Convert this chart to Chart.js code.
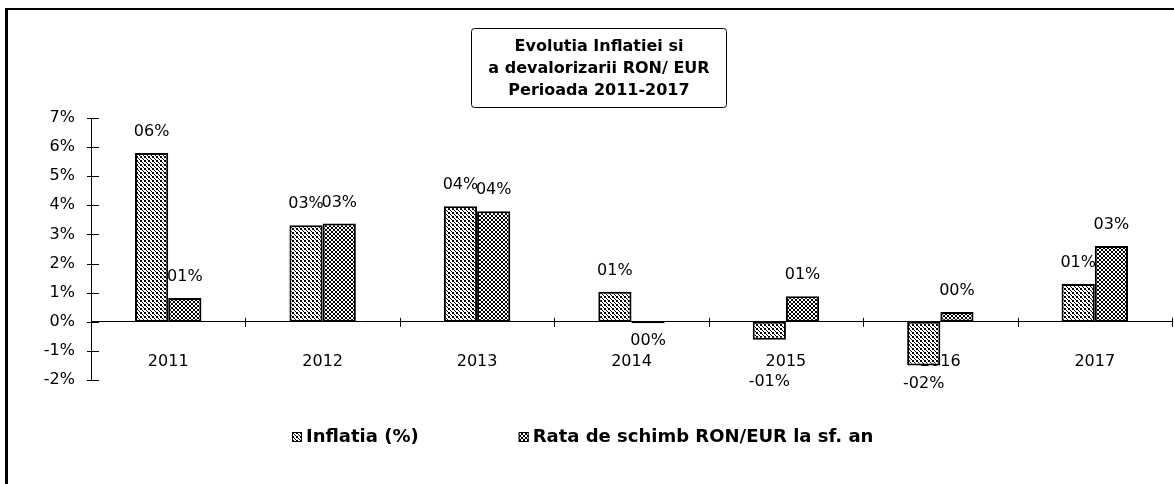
<!DOCTYPE html>
<html>
<head>
<meta charset="utf-8">
<title>Evolutia Inflatiei si a devalorizarii RON/EUR</title>
<script src="https://cdn.jsdelivr.net/npm/chart.js@4.4.1/dist/chart.umd.min.js"></script>
<style>
  html, body { margin: 0; padding: 0; background: #fff; }
  canvas { display: block; }
</style>
</head>
<body>
<canvas id="chart" width="1174" height="484"></canvas>
<script>
const years = ['2011', '2012', '2013', '2014', '2015', '2016', '2017'];
const inflatia = [5.8, 3.32, 3.97, 1.03, -0.62, -1.5, 1.3];
const rataSchimb = [0.82, 3.38, 3.8, -0.05, 0.88, 0.34, 2.6];
const seriesNames = ['Inflatia (%)', 'Rata de schimb RON/EUR la sf. an'];
const titleLines = ['Evolutia Inflatiei si', 'a devalorizarii RON/ EUR', 'Perioada 2011-2017'];
const yMin = -2, yMax = 7, yStep = 1;

const FONT = '"DejaVu Sans", "Liberation Sans", Arial, sans-serif';
const canvas = document.getElementById('chart');

function makePattern(draw) {
    const tile = document.createElement('canvas');
    tile.width = tile.height = 4;
    const c = tile.getContext('2d');
    c.fillStyle = '#fff';
    c.fillRect(0, 0, 4, 4);
    c.fillStyle = '#000';
    draw(c);
    return canvas.getContext('2d').createPattern(tile, 'repeat');
}

// dotted fill for inflation, denser cross-hatch for the exchange rate
const dotPattern = makePattern(c => { c.fillRect(0, 0, 2, 2); c.fillRect(2, 2, 1, 1); c.fillRect(3, 3, 1, 1); });
const hatchPattern = makePattern(c => {
    for (let i = 0; i < 4; i++) { c.fillRect(i, i, 1, 1); c.fillRect(3 - i, i, 1, 1); }
});

function formatLabel(v) {
    const r = Math.round(Math.abs(v));
    return (r && v < 0 ? '-' : '') + String(r).padStart(2, '0') + '%';
}

const decorPlugin = {
    id: 'decor',
    beforeDraw(chart) {
        const c = chart.ctx;
        c.save();
        c.fillStyle = '#fff';
        c.fillRect(0, 0, chart.width, chart.height);
        c.fillStyle = '#000';
        c.fillRect(6, 8, chart.width - 6, 2);
        c.fillRect(5, 8, 3, chart.height - 8);
        c.restore();
    },
    afterDatasetsDraw(chart) {
        const c = chart.ctx;
        const zeroY = chart.scales.y.getPixelForValue(0);
        const catY = zeroY + 40;
        c.save();
        c.font = '16px ' + FONT;
        c.fillStyle = '#000';
        c.textAlign = 'center';
        c.textBaseline = 'middle';
        chart.data.datasets.forEach((ds, d) => {
            chart.getDatasetMeta(d).data.forEach((bar, i) => {
                const v = ds.data[i];
                let y;
                if (v >= 0) {
                    y = bar.y - 21;
                } else {
                    y = bar.y + 18;
                    if (Math.abs(y - catY) < 14) y = catY + 20;
                }
                c.fillText(formatLabel(v), bar.x, y);
            });
        });
        c.restore();
    },
    afterDraw(chart) {
        const c = chart.ctx;
        const xs = chart.scales.x, ys = chart.scales.y;
        const left = chart.chartArea.left;
        const zeroY = ys.getPixelForValue(0);
        c.save();
        c.strokeStyle = '#000';
        c.lineWidth = 1;
        c.beginPath();
        ys.ticks.forEach(t => {
            const y = Math.round(ys.getPixelForValue(t.value)) + 0.5;
            c.moveTo(left - 4, y);
            c.lineTo(left + 8, y);
        });
        for (let i = 0; i <= years.length; i++) {
            const x = Math.round(xs.getPixelForValue(i - 0.5)) + 0.5;
            c.moveTo(x, zeroY - 4);
            c.lineTo(x, zeroY + 5);
        }
        c.stroke();

        // title box
        c.beginPath();
        c.roundRect(471.5, 28.5, 255, 79, 3);
        c.stroke();
        c.fillStyle = '#000';
        c.font = 'bold 16px ' + FONT;
        c.textAlign = 'center';
        c.textBaseline = 'middle';
        titleLines.forEach((line, i) => c.fillText(line, 599, 47 + i * 22));

        // legend
        c.font = 'bold 18px ' + FONT;
        c.textAlign = 'left';
        const box = 10, gapText = 4, gapItems = 100;
        const widths = seriesNames.map(n => c.measureText(n).width);
        const total = widths.reduce((s, w) => s + box + gapText + w, 0) + gapItems;
        let x = Math.round(583 - total / 2);
        const ly = 437;
        chart.data.datasets.forEach((ds, i) => {
            c.fillStyle = ds.backgroundColor;
            c.fillRect(x, ly - 5, box, box);
            c.strokeRect(x + 0.5, ly - 4.5, box - 1, box - 1);
            c.fillStyle = '#000';
            c.fillText(seriesNames[i], x + box + gapText, ly);
            x += box + gapText + widths[i] + gapItems;
        });
        c.restore();
    }
};

const barStyle = { borderColor: '#000', borderWidth: 2, borderSkipped: false, categoryPercentage: 0.43, barPercentage: 1 };

new Chart(canvas, {
    type: 'bar',
    data: {
        labels: years,
        datasets: [
            { label: seriesNames[0], data: inflatia, backgroundColor: dotPattern, ...barStyle },
            { label: seriesNames[1], data: rataSchimb, backgroundColor: hatchPattern, ...barStyle }
        ]
    },
    options: {
        responsive: false,
        animation: false,
        devicePixelRatio: 1,
        layout: { padding: { top: 118, bottom: 104, left: 0, right: 2 } },
        plugins: { legend: { display: false }, title: { display: false }, tooltip: { enabled: false } },
        scales: {
            x: {
                position: { y: 0 },
                grid: { display: false, drawTicks: false },
                border: { color: '#000', width: 1 },
                ticks: { color: '#000', padding: 30, maxRotation: 0, font: { family: FONT, size: 16 } }
            },
            y: {
                min: yMin,
                max: yMax,
                grid: { display: false, drawTicks: false },
                border: { color: '#000', width: 1 },
                ticks: { stepSize: yStep, color: '#000', padding: 16, font: { family: FONT, size: 16 }, callback: v => v + '%' },
                afterFit: s => { s.width = 91; }
            }
        }
    },
    plugins: [decorPlugin]
});
</script>
</body>
</html>
